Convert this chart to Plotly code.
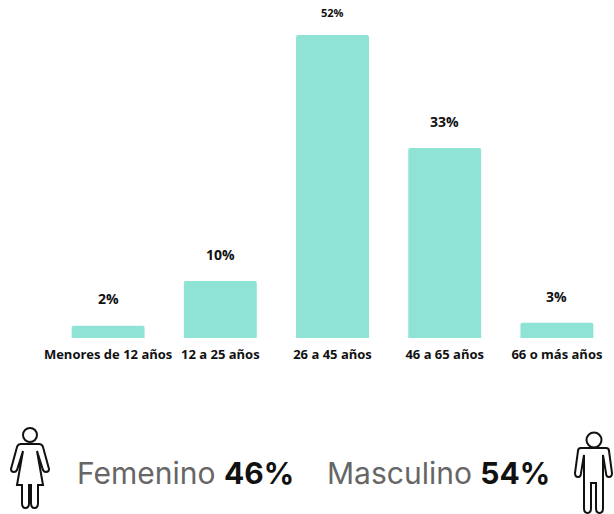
import plotly.graph_objects as go

categories = ["Menores de 12 años", "12 a 25 años", "26 a 45 años", "46 a 65 años", "66 o más años"]
values = [2.1, 9.8, 52, 32.6, 2.6]
labels = ["2%", "10%", "52%", "33%", "3%"]
label_sizes = [14, 14, 11, 14, 14]
label_gap = [27, 26, 22, 27, 26]

W, H = 614, 514
px = lambda x: x / W
py = lambda y: 1 - y / H

def path(cmds):
    out = []
    for c in cmds:
        out.append(c[0] + " ".join(f"{px(c[i]):.5f},{py(c[i+1]):.5f}" for i in range(1, len(c), 2)))
    return " ".join(out) + " Z"

def circle(cx, cy, r):
    k = 0.5523 * r
    return path([("M", cx + r, cy),
                 ("C", cx + r, cy + k, cx + k, cy + r, cx, cy + r),
                 ("C", cx - k, cy + r, cx - r, cy + k, cx - r, cy),
                 ("C", cx - r, cy - k, cx - k, cy - r, cx, cy - r),
                 ("C", cx + k, cy - r, cx + r, cy - k, cx + r, cy)])

woman = [("M",21,444),("L",39,444),("Q",42,444,43,447),("L",49,469),("Q",49,472,46,472),("Q",44,472,43,470),
         ("L",37,451),("L",43,485),("L",38,485),("L",38,503),("Q",38,508,34.5,508),("Q",31,508,31,503),("L",31,485),
         ("L",29,485),("L",29,503),("Q",29,508,25.5,508),("Q",22,508,22,503),("L",22,485),("L",17,485),("L",23,451),
         ("L",17,470),("Q",16,472,14,472),("Q",11,472,11,469),("L",17,447),("Q",18,444,21,444)]
man = [("M",581,448),("L",606,448),("Q",609,448,609,451),("L",612,473),("Q",612,477,609,477),("Q",606,477,606,473),
       ("L",603,455),("L",603,508),("Q",603,513,599.5,513),("Q",596,513,596,508),("L",596,483),("L",591,483),
       ("L",591,508),("Q",591,513,587.5,513),("Q",584,513,584,508),("L",584,455),("L",581,473),("Q",581,477,578,477),
       ("Q",575,477,575,473),("L",578,451),("Q",578,448,581,448)]

fig = go.Figure(go.Bar(x=categories, y=values, width=0.65, marker=dict(color="#8EE3D5", cornerradius=2, line_width=0),
                       hoverinfo="skip"))

annotations = [dict(x=c, y=v, text=f"<b>{t}</b>", showarrow=False, yshift=g, yanchor="middle", xanchor="center",
                    font=dict(size=s, color="#111111", family="Open Sans"))
               for c, v, t, s, g in zip(categories, values, labels, label_sizes, label_gap)]
annotations += [
    dict(xref="paper", yref="paper", x=px(75), y=py(473), xanchor="left", yanchor="middle", showarrow=False,
         text="Femenino <span style='color:#111111'><b>46%</b></span>",
         font=dict(size=30, color="#666666", family="Inter")),
    dict(xref="paper", yref="paper", x=px(325), y=py(473), xanchor="left", yanchor="middle", showarrow=False,
         text="Masculino <span style='color:#111111'><b>54%</b></span>",
         font=dict(size=30, color="#666666", family="Inter")),
]

line = dict(color="#111111", width=2)
shapes = [dict(type="path", xref="paper", yref="paper", path=p, line=line, fillcolor="rgba(0,0,0,0)")
          for p in (circle(30, 435, 7), path(woman), circle(594, 440, 7.5), path(man))]

fig.update_layout(
    width=W, height=H, margin=dict(l=0, r=0, t=0, b=0, autoexpand=False), paper_bgcolor="white", plot_bgcolor="white",
    showlegend=False, annotations=annotations, shapes=shapes, bargap=0.35,
    xaxis=dict(domain=[52 / W, 613 / W], showgrid=False, showline=False, ticks="", zeroline=False,
               ticklabelstandoff=7,
               tickfont=dict(size=13, color="#111111", family="Open Sans", weight=700)),
    yaxis=dict(domain=[py(338), py(35)], range=[0, 52], visible=False),
)
fig.write_html("out.html", config=dict(displayModeBar=False),
               post_script="document.body.style.margin='0';document.body.style.overflow='hidden';")
